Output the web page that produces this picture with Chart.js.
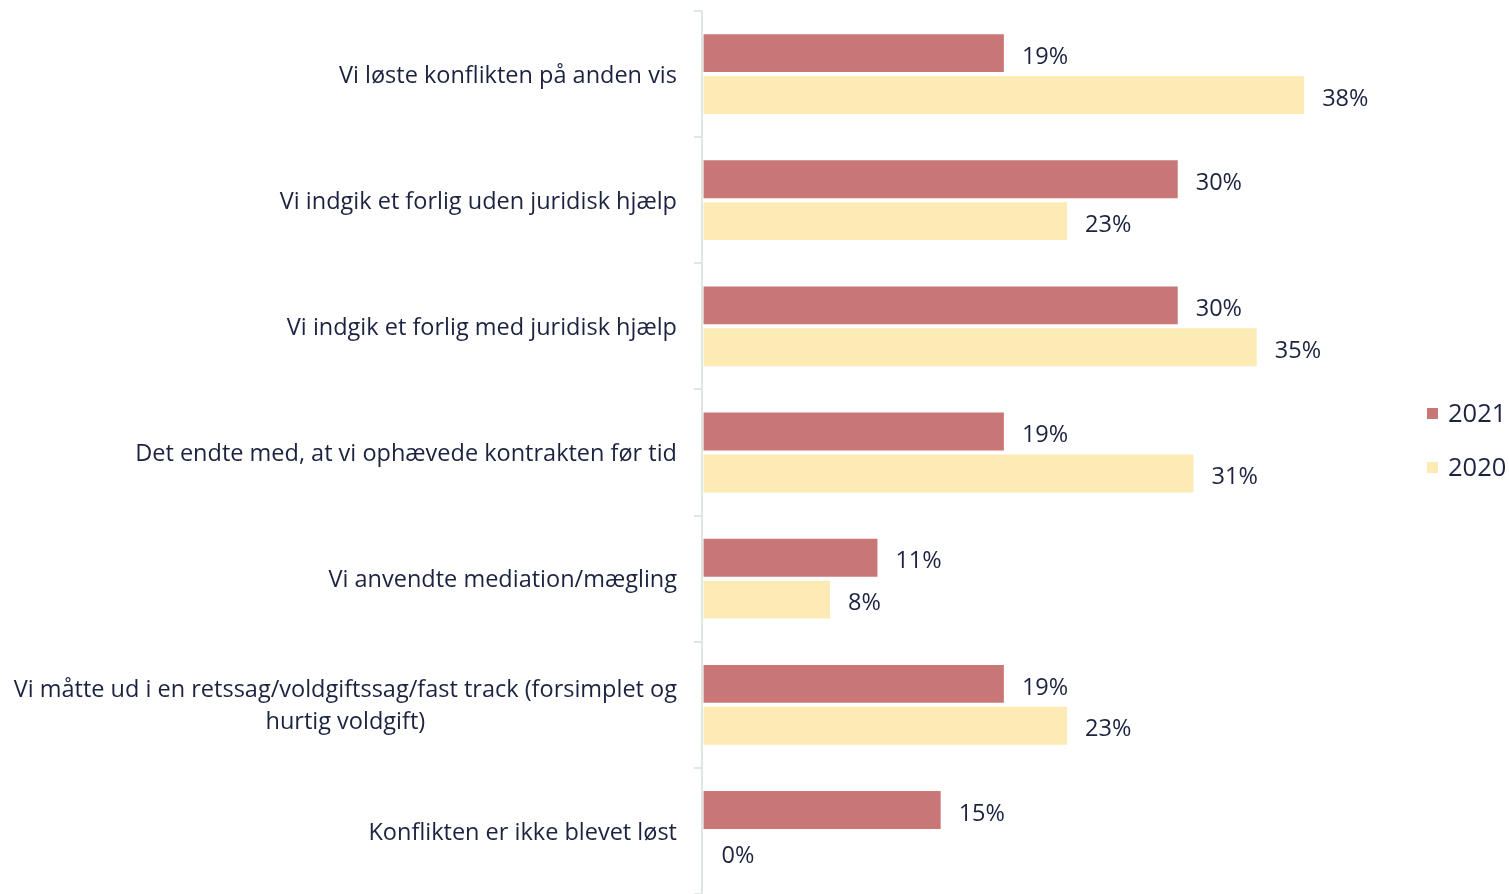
<!DOCTYPE html>
<html>
<head>
<meta charset="utf-8">
<script src="https://cdn.jsdelivr.net/npm/chart.js@4/dist/chart.umd.min.js"></script>
<style>
  html, body { margin: 0; padding: 0; background: #fff; }
  #wrap { width: 1509px; height: 894px; }
</style>
</head>
<body>
<div id="wrap"><canvas id="conflict_chart" width="1509" height="894"></canvas></div>
<script>
// categories (wrapped lines are centered under each other)
const categories = [
    ["Vi løste konflikten på anden vis"],
    ["Vi indgik et forlig uden juridisk hjælp"],
    ["Vi indgik et forlig med juridisk hjælp"],
    ["Det endte med, at vi ophævede kontrakten før tid"],
    ["Vi anvendte mediation/mægling"],
    ["Vi måtte ud i en retssag/voldgiftssag/fast track (forsimplet og", "hurtig voldgift)"],
    ["Konflikten er ikke blevet løst"]
];
const values2021 = [19, 30, 30, 19, 11, 19, 15];
const values2020 = [38, 23, 35, 31, 8, 23, 0];
const seriesNames = ["2021", "2020"];

const FONT = "'Open Sans', Lato, sans-serif";
const TEXT = "#1c2340";
const AXIS = "#dde7e3";
const colors = ["#c97676", "#fcebb5"];

// category names drawn next to the y axis, right aligned, multi-line centered
const catLabels = {
    id: 'catLabels',
    afterDraw(chart) {
        let ctx = chart.ctx;
        let y = chart.scales.y;
        ctx.save();
        ctx.font = "23.5px " + FONT;
        ctx.fillStyle = TEXT;
        ctx.textBaseline = "middle";
        let right = y.right - 25;
        categories.forEach((lines, i) => {
            let cy = y.getPixelForValue(i) + 2;
            let lh = 32;
            let top = cy - (lines.length - 1) * lh / 2;
            if (lines.length == 1) {
                ctx.textAlign = "right";
                ctx.fillText(lines[0], right, cy);
            } else {
                let w = Math.max(...lines.map(l => ctx.measureText(l).width));
                ctx.textAlign = "center";
                lines.forEach((l, k) => ctx.fillText(l, right - w / 2, top + k * lh));
            }
        });
        ctx.restore();
    }
};

// percentage after each bar
const valueLabels = {
    id: 'valueLabels',
    afterDatasetsDraw(chart) {
        let ctx = chart.ctx;
        ctx.save();
        ctx.font = "23.5px " + FONT;
        ctx.fillStyle = TEXT;
        ctx.textAlign = "left";
        ctx.textBaseline = "middle";
        chart.data.datasets.forEach((ds, di) => {
            chart.getDatasetMeta(di).data.forEach((bar, i) => {
                ctx.fillText(ds.data[i] + "%", bar.x + 18, bar.y + 4);
            });
        });
        ctx.restore();
    }
};

// legend on the right, vertically centered
const sideLegend = {
    id: 'sideLegend',
    afterDraw(chart) {
        let ctx = chart.ctx;
        ctx.save();
        ctx.font = "25.5px " + FONT;
        ctx.textAlign = "left";
        ctx.textBaseline = "middle";
        chart.data.datasets.forEach((ds, di) => {
            let cy = 413 + di * 54;
            ctx.fillStyle = ds.backgroundColor;
            ctx.fillRect(1427, cy - 5, 11, 11);
            ctx.fillStyle = TEXT;
            ctx.fillText(ds.label, 1448, cy + 2);
        });
        ctx.restore();
    }
};

new Chart("conflict_chart", {
    type: "bar",
    data: {
        labels: categories.map(c => c.join(" ")),
        datasets: [
            { label: seriesNames[0], data: values2021, backgroundColor: colors[0] },
            { label: seriesNames[1], data: values2020, backgroundColor: colors[1] }
        ]
    },
    options: {
        indexAxis: 'y',
        responsive: false,
        animation: false,
        categoryPercentage: 0.664,
        barPercentage: 0.905,
        layout: { padding: { top: 11, right: 110, bottom: 0, left: 0 } },
        plugins: { legend: { display: false }, tooltip: { enabled: false } },
        scales: {
            x: { display: false, min: -0.1, max: 44.0 },
            y: {
                afterFit(scale) { scale.width = 702; },
                ticks: { display: false },
                border: { display: true, color: AXIS, width: 2 },
                grid: { offset: true, drawOnChartArea: false, tickLength: 8, color: AXIS, lineWidth: 2 }
            }
        }
    },
    plugins: [catLabels, valueLabels, sideLegend]
});
</script>
</body>
</html>
